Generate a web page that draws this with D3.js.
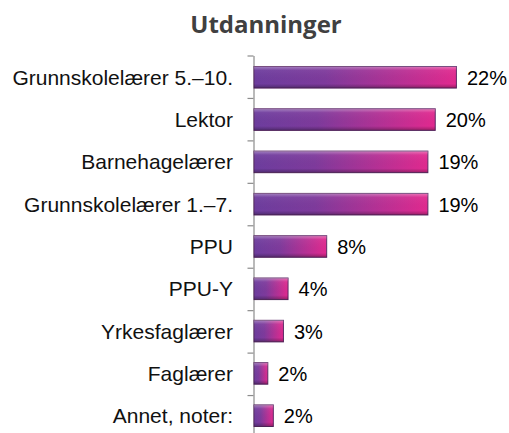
<!DOCTYPE html>
<html>
<head>
<meta charset="utf-8">
<script src="https://cdn.jsdelivr.net/npm/d3@7"></script>
<style>
  body { margin: 0; background: #fff; }
  svg { display: block; }
</style>
</head>
<body>
<div id="chart-area"></div>
<script>
const categories = ["Grunnskolelærer 5.–10.", "Lektor", "Barnehagelærer", "Grunnskolelærer 1.–7.",
    "PPU", "PPU-Y", "Yrkesfaglærer", "Faglærer", "Annet, noter:"]
const values = [22.0, 19.7, 18.9, 18.9, 7.9, 3.7, 3.2, 1.5, 2.1]
const labels = ["22%", "20%", "19%", "19%", "8%", "4%", "3%", "2%", "2%"]

const WIDTH = 509
const HEIGHT = 433
const AXIS_X = 253.5

const svg = d3.select("#chart-area").append("svg")
    .attr("width", WIDTH)
    .attr("height", HEIGHT)

const defs = svg.append("defs")

// purple -> pink along the bar
const grad = defs.append("linearGradient")
    .attr("id", "barGrad")
    .attr("x1", "0%").attr("x2", "100%")
    .attr("y1", "0%").attr("y2", "0%")
grad.append("stop").attr("offset", "0%").attr("stop-color", "#6d3d9e")
grad.append("stop").attr("offset", "35%").attr("stop-color", "#7e3a9c")
grad.append("stop").attr("offset", "100%").attr("stop-color", "#e2298f")

// bevel shading top to bottom
const shade = defs.append("linearGradient")
    .attr("id", "barShade")
    .attr("x1", "0%").attr("x2", "0%")
    .attr("y1", "0%").attr("y2", "100%")
shade.append("stop").attr("offset", "0%").attr("stop-color", "#fff").attr("stop-opacity", 0.35)
shade.append("stop").attr("offset", "18%").attr("stop-color", "#fff").attr("stop-opacity", 0.05)
shade.append("stop").attr("offset", "80%").attr("stop-color", "#000").attr("stop-opacity", 0.0)
shade.append("stop").attr("offset", "100%").attr("stop-color", "#000").attr("stop-opacity", 0.3)

// title
svg.append("text")
    .attr("x", 266)
    .attr("y", 33)
    .attr("text-anchor", "middle")
    .attr("font-family", "Open Sans, sans-serif")
    .attr("font-weight", "bold")
    .attr("font-size", "24px")
    .attr("fill", "#404040")
    .text("Utdanninger")

const x = d3.scaleLinear().domain([0, 25]).range([AXIS_X, AXIS_X + 25 * 9.2])

const y = d3.scaleBand().domain(categories).range([55.5, 437.5])
    .paddingInner(0.49)
    .paddingOuter(0.26)

// axis with ticks at the category boundaries
const yEdge = d3.scaleLinear().domain([0, categories.length]).range([55.5, 437.5])
const yAxisCall = d3.axisLeft(yEdge)
    .tickValues(d3.range(categories.length + 1))
    .tickFormat("")
    .tickSize(6)
    .tickSizeOuter(0)
const axisG = svg.append("g")
    .attr("class", "y axis")
    .attr("transform", `translate(${AXIS_X}, 0)`)
    .call(yAxisCall)
axisG.selectAll("path, line").attr("stroke", "#8c8c8c").attr("stroke-width", 1.2)

// category labels
svg.selectAll("text.cat").data(categories)
    .enter().append("text")
    .attr("class", "cat")
    .attr("x", 233)
    .attr("y", d => y(d) + y.bandwidth() / 2 + 7.5)
    .attr("text-anchor", "end")
    .attr("font-family", "Liberation Sans, Arial, sans-serif")
    .attr("font-size", "21px")
    .attr("fill", "#111")
    .text(d => d)

const bars = svg.selectAll("g.bar").data(values)
    .enter().append("g")
    .attr("class", "bar")

bars.append("rect")
    .attr("x", x(0) + 0.5)
    .attr("y", (d, i) => y(categories[i]))
    .attr("width", d => x(d) - x(0))
    .attr("height", y.bandwidth())
    .attr("fill", "url(#barGrad)")
    .attr("stroke", "#5b2a66")
    .attr("stroke-width", 1)

bars.append("rect")
    .attr("x", x(0) + 0.5)
    .attr("y", (d, i) => y(categories[i]))
    .attr("width", d => x(d) - x(0))
    .attr("height", y.bandwidth())
    .attr("fill", "url(#barShade)")

// value labels
svg.selectAll("text.val").data(values)
    .enter().append("text")
    .attr("class", "val")
    .attr("x", d => x(d) + 11)
    .attr("y", (d, i) => y(categories[i]) + y.bandwidth() / 2 + 7.5)
    .attr("font-family", "Liberation Sans, Arial, sans-serif")
    .attr("font-size", "20px")
    .attr("fill", "#000")
    .text((d, i) => labels[i])
</script>
</body>
</html>
